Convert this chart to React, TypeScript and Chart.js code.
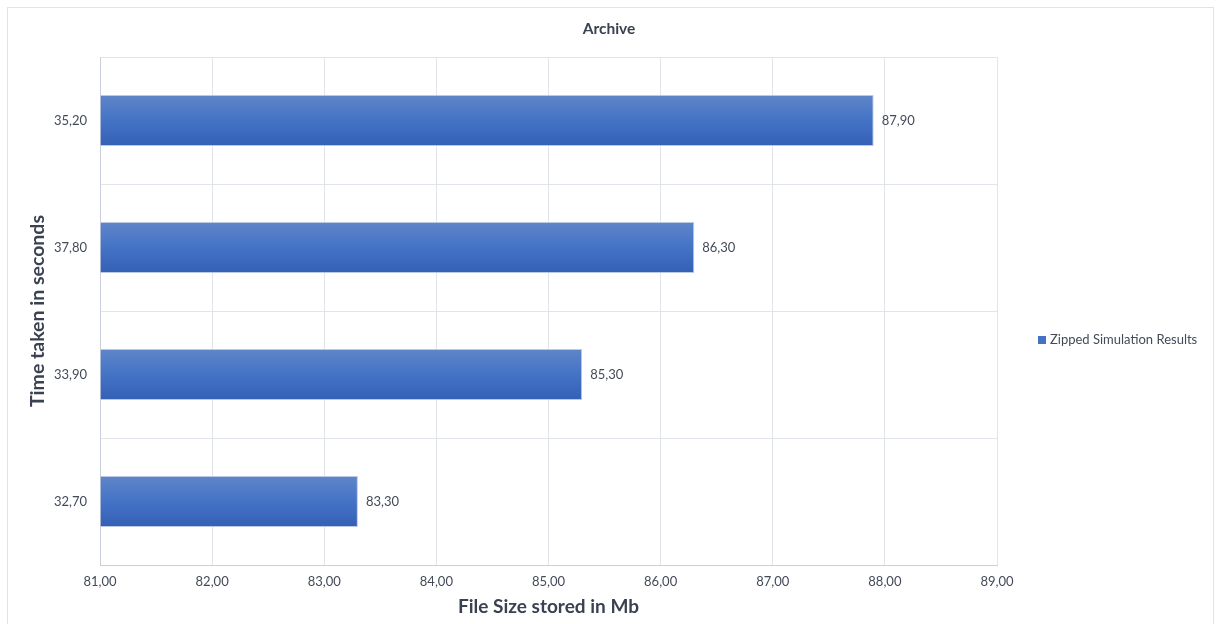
import React, { useEffect, useRef } from "react";
import { Chart, registerables } from "chart.js";

Chart.register(...registerables);

const categories: string[] = ["35,20", "37,80", "33,90", "32,70"];
const fileSizes: number[] = [87.9, 86.3, 85.3, 83.3];
const seriesLabel = "Zipped Simulation Results";
const chartTitle = "Archive";
const xAxisTitle = "File Size stored in Mb";
const yAxisTitle = "Time taken in seconds";
const xMin = 81;
const xMax = 89;

const FONT = "Lato, 'Open Sans', sans-serif";
const TICK_COLOR = "#434b59";
const TITLE_COLOR = "#3a4150";
const GRID_COLOR = "#e1e4eb";
const fmt = (v: number) => v.toFixed(2).replace(".", ",");

const valueLabels = {
  id: "valueLabels",
  afterDatasetsDraw(chart: any) {
    const ctx = chart.ctx;
    const meta = chart.getDatasetMeta(0);
    ctx.save();
    ctx.font = `13px ${FONT}`;
    ctx.fillStyle = TICK_COLOR;
    ctx.textAlign = "left";
    ctx.textBaseline = "middle";
    meta.data.forEach((el: any, i: number) => {
      ctx.fillText(fmt(chart.data.datasets[0].data[i] as number), el.x + 8, el.y);
    });
    ctx.restore();
  },
};

const sideLegend = {
  id: "sideLegend",
  afterDraw(chart: any) {
    const ctx = chart.ctx;
    const area = chart.chartArea;
    const cy = (area.top + area.bottom) / 2 + 29;
    ctx.save();
    ctx.fillStyle = "#4472c4";
    ctx.fillRect(1038, cy - 4, 8, 8);
    ctx.font = `13px ${FONT}`;
    ctx.fillStyle = TICK_COLOR;
    ctx.textAlign = "left";
    ctx.textBaseline = "middle";
    ctx.fillText(chart.data.datasets[0].label, 1050, cy);
    ctx.restore();
  },
};

export default function App() {
  const ref = useRef<HTMLCanvasElement | null>(null);

  useEffect(() => {
    if (!ref.current) return;
    const chart = new Chart(ref.current, {
      type: "bar",
      data: {
        labels: categories,
        datasets: [
          {
            label: seriesLabel,
            data: fileSizes,
            base: xMin,
            barPercentage: 0.4,
            categoryPercentage: 1,
            borderWidth: 1,
            borderColor: "rgba(170,188,225,0.8)",
            backgroundColor: (c: any) => {
              const ch = c.chart;
              const sc = ch.scales && ch.scales.y;
              if (!ch.chartArea || !sc || c.dataIndex === undefined) return "#4472c4";
              const y = sc.getPixelForValue(c.dataIndex);
              const g = ch.ctx.createLinearGradient(0, y - 25, 0, y + 25);
              g.addColorStop(0, "#5f85c9");
              g.addColorStop(0.5, "#4473c6");
              g.addColorStop(1, "#3460b6");
              return g;
            },
          } as any,
        ],
      },
      options: {
        indexAxis: "y",
        responsive: false,
        animation: false,
        devicePixelRatio: 1,
        layout: { padding: { left: 0, right: 0, top: 0, bottom: 0 } },
        plugins: {
          legend: { display: false },
          tooltip: { enabled: false },
          title: {
            display: true,
            text: chartTitle,
            color: TITLE_COLOR,
            font: { family: FONT, size: 15.5, weight: "bold", lineHeight: 1.2 },
            padding: { top: 20, bottom: 18.4 },
          },
        },
        scales: {
          x: {
            type: "linear",
            position: "bottom",
            min: xMin,
            max: xMax,
            ticks: {
              stepSize: 1,
              color: TICK_COLOR,
              font: { family: FONT, size: 13 },
              padding: 9,
              callback: (v: any) => fmt(Number(v)),
              maxRotation: 0,
            },
            grid: { color: GRID_COLOR, drawTicks: false, lineWidth: 1 },
            border: { display: true, color: "#c9cfdb" },
            title: {
              display: true,
              text: xAxisTitle,
              color: TITLE_COLOR,
              font: { family: FONT, size: 19, weight: "bold", lineHeight: 1.2 },
              padding: { top: 4, bottom: 6 },
            },
            afterFit: (s: any) => {
              s.height = 59;
            },
          },
          y: {
            type: "category",
            position: "left",
            ticks: {
              color: TICK_COLOR,
              font: { family: FONT, size: 13 },
              padding: 13,
            },
            grid: { color: GRID_COLOR, drawTicks: false, offset: true },
            border: { display: true, color: "#c9cfdb" },
            title: {
              display: true,
              text: yAxisTitle,
              color: TITLE_COLOR,
              font: { family: FONT, size: 19.5, weight: "bold", lineHeight: 1.2 },
              padding: { top: 26, bottom: 0 },
            },
            afterFit: (s: any) => {
              s.width = 100;
            },
          },
          spacer: {
            type: "linear",
            position: "right",
            display: true,
            ticks: { display: false },
            grid: { display: false, drawTicks: false },
            border: { display: false },
            afterFit: (s: any) => {
              s.width = 221;
            },
          },
        },
      } as any,
      plugins: [valueLabels, sideLegend],
    });
    return () => chart.destroy();
  }, []);

  return (
    <div
      style={{
        position: "fixed",
        left: 0,
        top: 0,
        width: 1218,
        height: 624,
        background: "#fff",
        overflow: "hidden",
      }}
    >
      <div
        style={{
          position: "absolute",
          left: 7,
          top: 7,
          width: 1207,
          height: 640,
          border: "1px solid #e0e3e9",
          boxSizing: "border-box",
        }}
      />
      <canvas
        ref={ref}
        width={1218}
        height={624}
        style={{ position: "absolute", left: 0, top: 0, width: 1218, height: 624 }}
      />
    </div>
  );
}
